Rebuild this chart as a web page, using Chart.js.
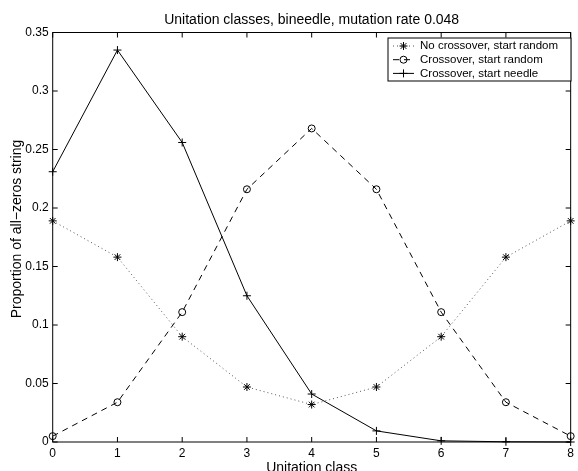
<!DOCTYPE html>
<html>
<head>
<meta charset="utf-8">
<script src="https://cdn.jsdelivr.net/npm/chart.js@4/dist/chart.umd.min.js"></script>
<style>
  body { margin: 0; background: #fff; }
  #wrap { width: 578px; height: 471px; }
</style>
</head>
<body>
<div id="wrap"><canvas id="chart" width="578" height="471"></canvas></div>
<script>
// unitation classes and proportions
const classes = [0, 1, 2, 3, 4, 5, 6, 7, 8];
const noXoverRandom = [0.189, 0.158, 0.090, 0.047, 0.032, 0.047, 0.090, 0.158, 0.189];
const xoverRandom = [0.005, 0.034, 0.111, 0.216, 0.268, 0.216, 0.111, 0.034, 0.005];
const xoverNeedle = [0.231, 0.335, 0.256, 0.125, 0.041, 0.0095, 0.001, 0.0002, 0];
const xTicks = [0, 1, 2, 3, 4, 5, 6, 7, 8];
const yTicks = [0, 0.05, 0.1, 0.15, 0.2, 0.25, 0.3, 0.35];

const FAMILY = '"Liberation Sans", Arial, sans-serif';
const series = [
  { label: 'No crossover, start random', data: noXoverRandom, dash: [1, 3], color: '#555', style: 'star' },
  { label: 'Crossover, start random', data: xoverRandom, dash: [6, 5], color: '#000', style: 'circle' },
  { label: 'Crossover, start needle', data: xoverNeedle, dash: [], color: '#000', style: 'cross' }
];

function marker(ctx, style, x, y, r) {
  ctx.save();
  ctx.setLineDash([]);
  ctx.strokeStyle = '#000';
  ctx.lineWidth = 1;
  ctx.beginPath();
  if (style === 'circle') {
    ctx.arc(x, y, r, 0, Math.PI * 2);
  } else {
    ctx.moveTo(x - r, y); ctx.lineTo(x + r, y);
    ctx.moveTo(x, y - r); ctx.lineTo(x, y + r);
    if (style === 'star') {
      const d = r * 0.72;
      ctx.moveTo(x - d, y - d); ctx.lineTo(x + d, y + d);
      ctx.moveTo(x - d, y + d); ctx.lineTo(x + d, y - d);
    }
  }
  ctx.stroke();
  ctx.restore();
}

const frame = {
  id: 'frame',
  afterDraw(chart) {
    const { ctx, chartArea: a, scales } = chart;
    ctx.save();
    ctx.strokeStyle = '#000';
    ctx.lineWidth = 1;
    ctx.setLineDash([]);
    ctx.strokeRect(a.left, a.top, a.right - a.left, a.bottom - a.top);
    ctx.beginPath();
    xTicks.forEach(v => {
      const px = scales.x.getPixelForValue(v);
      ctx.moveTo(px, a.bottom); ctx.lineTo(px, a.bottom - 5);
      ctx.moveTo(px, a.top); ctx.lineTo(px, a.top + 5);
    });
    yTicks.forEach(v => {
      const py = scales.y.getPixelForValue(v);
      ctx.moveTo(a.left, py); ctx.lineTo(a.left + 5, py);
      ctx.moveTo(a.right, py); ctx.lineTo(a.right - 5, py);
    });
    ctx.stroke();

    // title and axis labels
    ctx.fillStyle = '#000';
    ctx.font = '14px ' + FAMILY;
    ctx.textAlign = 'center';
    ctx.textBaseline = 'alphabetic';
    const cx = (a.left + a.right) / 2;
    ctx.fillText('Unitation classes, bineedle, mutation rate 0.048', cx, 24);
    ctx.fillText('Unitation class', cx, 472);
    ctx.save();
    ctx.translate(21, 229);
    ctx.rotate(-Math.PI / 2);
    ctx.fillText('Proportion of all\u2212zeros string', 0, 0);
    ctx.restore();

    // legend
    const lx = 388, ly = 38, lw = 183, lh = 43;
    ctx.fillStyle = '#fff';
    ctx.fillRect(lx, ly, lw, lh);
    ctx.strokeRect(lx, ly, lw, lh);
    ctx.font = '11.5px ' + FAMILY;
    ctx.textBaseline = 'middle';
    series.forEach((s, i) => {
      const y = ly + 8 + i * 13.7;
      ctx.strokeStyle = s.color;
      ctx.setLineDash(s.dash);
      ctx.beginPath();
      ctx.moveTo(393, y); ctx.lineTo(414, y);
      ctx.stroke();
      marker(ctx, s.style, 403.5, y, s.style === 'circle' ? 3.5 : 4);
      ctx.fillStyle = '#000';
      ctx.textAlign = 'left';
      ctx.fillText(s.label, 420, y);
    });
    ctx.restore();
  }
};

new Chart(document.getElementById('chart').getContext('2d'), {
  type: 'line',
  data: {
    labels: classes,
    datasets: series.map(s => ({
      label: s.label,
      data: classes.map((c, i) => ({ x: c, y: s.data[i] })),
      borderColor: s.color,
      borderWidth: 1,
      borderDash: s.dash,
      pointStyle: s.style,
      pointRadius: s.style === 'circle' ? 3.5 : 4,
      pointBorderColor: '#000',
      pointBackgroundColor: 'rgba(0,0,0,0)',
      pointBorderWidth: 1,
      tension: 0,
      fill: false,
      clip: false
    }))
  },
  options: {
    responsive: false,
    animation: false,
    events: [],
    layout: { padding: { left: 0, right: 5.7, top: 32.5, bottom: 0 } },
    plugins: { legend: { display: false }, tooltip: { enabled: false }, title: { display: false } },
    scales: {
      x: {
        type: 'linear', min: 0, max: 8,
        afterFit(s) { s.height = 29; },
        afterBuildTicks(s) { s.ticks = xTicks.map(v => ({ value: v })); },
        grid: { display: false, drawTicks: false },
        border: { display: false },
        ticks: { color: '#000', font: { family: FAMILY, size: 12 }, padding: 4, maxRotation: 0 }
      },
      y: {
        min: 0, max: 0.35,
        afterFit(s) { s.width = 52.7; },
        afterBuildTicks(s) { s.ticks = yTicks.map(v => ({ value: v })); },
        grid: { display: false, drawTicks: false },
        border: { display: false },
        ticks: { color: '#000', font: { family: FAMILY, size: 12 }, padding: 4,
                 callback: v => String(+v.toFixed(2)) }
      }
    }
  },
  plugins: [frame]
});
</script>
</body>
</html>
